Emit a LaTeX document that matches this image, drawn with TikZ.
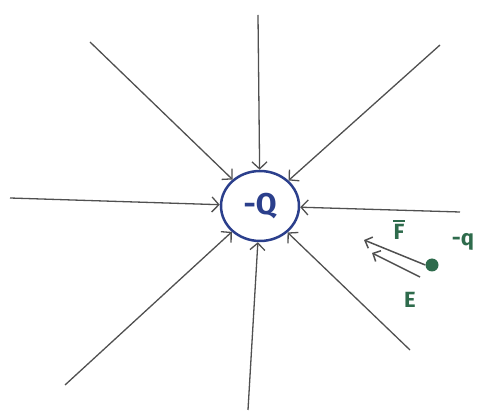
\documentclass[tikz,border=0pt]{standalone}
\usepackage{fontspec}
\setmainfont{Fira Sans}
\usetikzlibrary{arrows.meta,shapes.geometric}
\definecolor{qblue}{HTML}{2B3F8C}
\definecolor{lgray}{HTML}{505050}
\definecolor{tgreen}{HTML}{2E6B4C}
\tikzset{
  ray/.style={draw=lgray, line width=1.3pt, -{Straight Barb[length=7pt,width=15pt,line width=1.3pt]}},
  vec/.style={draw=lgray, line width=1.5pt, -{Straight Barb[length=6pt,width=12pt,line width=1.5pt]}},
  lbl/.style={text=tgreen, font=\bfseries\fontsize{22}{22}\selectfont, inner sep=0pt}
}
\begin{document}
\begin{tikzpicture}[x=1pt,y=-1pt]
\useasboundingbox (0,0) rectangle (488,414);
\node[ellipse, draw=qblue, line width=2.5pt, minimum width=78pt, minimum height=70pt, inner sep=0pt,
      text=qblue, font=\bfseries\fontsize{30}{30}\selectfont] (q) at (260,206) {-Q};
\coordinate (n) at (258,15);
\coordinate (nw) at (90,42);
\coordinate (ne) at (440,45);
\coordinate (w) at (10,198);
\coordinate (e) at (460,212);
\coordinate (sw) at (65,385);
\coordinate (s) at (248,410);
\coordinate (se) at (410,350);
\foreach \c in {n,nw,ne,w,e,sw,s,se} \draw[ray] (\c) -- (q);
\node[circle, fill=tgreen, minimum size=13pt, inner sep=0pt] (p) at (432,265) {};
\coordinate (ft) at (364,240);
\coordinate (et) at (372,253);
\coordinate (es) at (420,277);
\draw[vec] (p.west) -- (ft);
\draw[vec] (es) -- (et);
\node[lbl] (fl) at (399,232) {F};
\draw[tgreen, line width=1.5pt] ([yshift=3pt]fl.north west) -- ([yshift=3pt]fl.north east);
\node[lbl] (el) at (410,300) {E};
\node[lbl] (ql) at (463,242) {-q};
\end{tikzpicture}
\end{document}
